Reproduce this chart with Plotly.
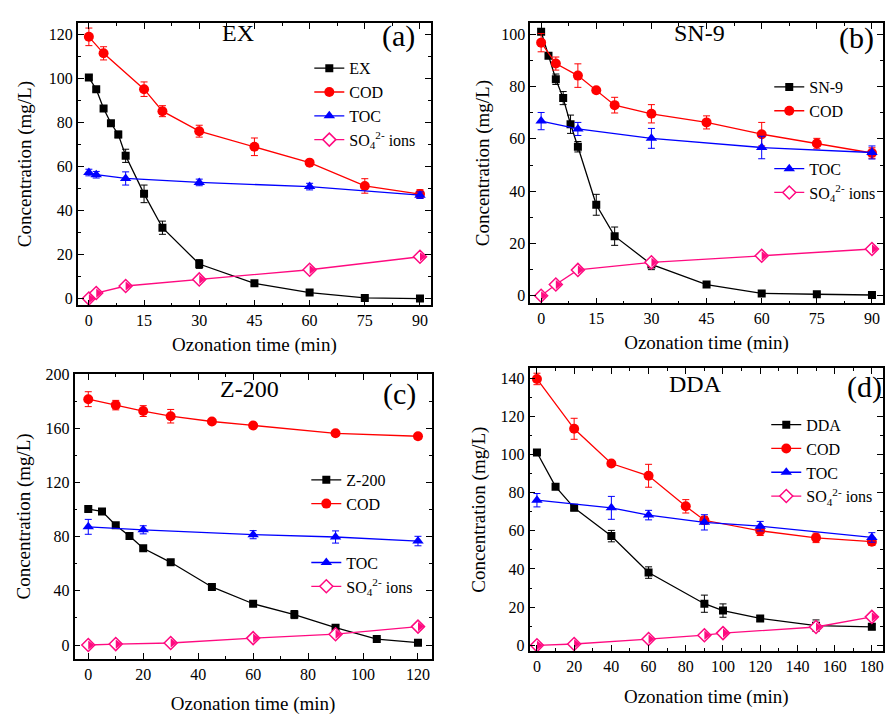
import plotly.graph_objects as go

# ---------------- data ----------------
# (a) EX
ex_t = [0, 2, 4, 6, 8, 10, 15, 20, 30, 45, 60, 75, 90]
ex_conc = [100.5, 95.2, 86.4, 79.7, 74.6, 64.9, 47.6, 32.2, 15.7, 6.9, 2.7, 0.3, 0.0]
ex_err = [1, 1, 1, 1, 1.5, 3, 4, 3, 2, 1, 1, 0.5, 0.5]
ex_cod_t = [0, 4, 15, 20, 30, 45, 60, 75, 90]
ex_cod = [119.0, 111.5, 95.2, 85.2, 76.1, 69.0, 61.8, 51.2, 47.5]
ex_cod_err = [4, 3, 3.3, 2.5, 2.7, 4, 1, 3.3, 2]
ex_toc_t = [0, 2, 10, 30, 60, 90]
ex_toc = [57.3, 56.3, 54.6, 52.8, 50.9, 47.0]
ex_toc_err = [1.5, 1.5, 3, 1.5, 1.5, 1.5]
ex_so4_t = [0, 2, 10, 30, 60, 90]
ex_so4 = [0.0, 2.5, 5.7, 8.7, 13.1, 19.0]

# (b) SN-9
sn_t = [0, 2, 4, 6, 8, 10, 15, 20, 30, 45, 60, 75, 90]
sn_conc = [101.0, 91.8, 82.8, 75.6, 65.6, 57.0, 34.8, 22.8, 12.0, 4.3, 0.9, 0.6, 0.3]
sn_err = [1, 1, 2, 2.5, 3.5, 2, 4, 3.5, 2, 0.5, 0.5, 0.5, 0.5]
sn_cod_t = [0, 4, 10, 15, 20, 30, 45, 60, 75, 90]
sn_cod = [96.8, 88.8, 84.2, 78.6, 72.9, 69.6, 66.3, 61.8, 58.2, 54.6]
sn_cod_err = [3.5, 2.5, 4.5, 1, 3, 3.5, 2.5, 4.5, 2, 2]
sn_toc_t = [0, 10, 30, 60, 90]
sn_toc = [66.8, 63.8, 60.2, 56.7, 54.8]
sn_toc_err = [3.3, 2.5, 3.8, 4.3, 2.5]
sn_so4_t = [0, 4, 10, 30, 60, 90]
sn_so4 = [0.0, 4.3, 9.9, 12.8, 15.3, 17.9]

# (c) Z-200
z_t = [0, 5, 10, 15, 20, 30, 45, 60, 75, 90, 105, 120]
z_conc = [100.4, 98.7, 88.5, 80.5, 71.5, 61.1, 42.9, 30.5, 22.5, 12.8, 4.4, 1.7]
z_err = [1.5, 1, 1.5, 1.5, 1.5, 1.5, 1, 1.5, 3, 2, 1, 1]
z_cod_t = [0, 10, 20, 30, 45, 60, 90, 120]
z_cod = [181.6, 177.2, 172.8, 169.0, 165.1, 162.2, 156.4, 154.2]
z_cod_err = [5.5, 3.5, 4, 5, 1.5, 1.5, 1.5, 2]
z_toc_t = [0, 20, 60, 90, 120]
z_toc = [87.3, 85.1, 81.5, 79.8, 76.8]
z_toc_err = [5.5, 3, 3, 4.5, 3.5]
z_so4_t = [0, 10, 30, 60, 90, 120]
z_so4 = [0.0, 0.7, 1.5, 5.1, 8.0, 13.6]

# (d) DDA
d_t = [0, 10, 20, 40, 60, 90, 100, 120, 150, 180]
d_conc = [101.0, 83.1, 72.0, 57.2, 38.1, 21.8, 18.2, 14.1, 10.3, 9.7]
d_err = [1.5, 1.5, 1.5, 3, 3, 4.5, 3.5, 1.5, 3, 1.5]
d_cod_t = [0, 20, 40, 60, 80, 90, 120, 150, 180]
d_cod = [139.5, 113.4, 95.2, 88.8, 72.8, 65.5, 60.0, 56.3, 54.3]
d_cod_err = [3, 5.5, 1.5, 6, 3.5, 2, 2.5, 2.5, 2]
d_toc_t = [0, 40, 60, 90, 120, 180]
d_toc = [76.0, 72.0, 68.2, 64.4, 62.4, 56.5]
d_toc_err = [3.5, 6, 2.5, 4, 2.5, 2.5]
d_so4_t = [0, 20, 60, 90, 100, 150, 180]
d_so4 = [0.0, 0.7, 3.3, 5.3, 6.4, 9.6, 14.9]

# ---------------- style ----------------
FONT = "Liberation Serif"
BLACK, RED, BLUE, PINK = "#000000", "#FF0000", "#0000FF", "#FF0A80"
SO4_NAME = "SO<sub>4</sub><sup>2-</sup> ions"
D_SIZE = 10

fig = go.Figure()


def add_panel(idx, name, legs, t, c, e, ct, cv, ce, tt, tv, te, st, sv):
    xa = "x" if idx == 1 else f"x{idx}"
    ya = "y" if idx == 1 else f"y{idx}"
    lg1, lg2 = legs
    fig.add_trace(go.Scatter(x=t, y=c, name=name, legend=lg1,
                             marker=dict(symbol="square", size=8, color=BLACK),
                             error_y=dict(type="data", array=e, color=BLACK, thickness=1, width=3.5),
                             line=dict(color=BLACK, width=1.3), xaxis=xa, yaxis=ya,
                             mode="lines+markers"))
    fig.add_trace(go.Scatter(x=ct, y=cv, name="COD", legend=lg1,
                             marker=dict(symbol="circle", size=10, color=RED),
                             error_y=dict(type="data", array=ce, color=RED, thickness=1, width=3.5),
                             line=dict(color=RED, width=1.3), xaxis=xa, yaxis=ya, mode="lines+markers"))
    fig.add_trace(go.Scatter(x=tt, y=tv, name="TOC", legend=lg2,
                             marker=dict(symbol="triangle-up", size=10, color=BLUE),
                             error_y=dict(type="data", array=te, color=BLUE, thickness=1, width=3.5),
                             line=dict(color=BLUE, width=1.3), xaxis=xa, yaxis=ya, mode="lines+markers"))
    fig.add_trace(go.Scatter(x=st, y=sv, name=SO4_NAME, legend=lg2,
                             marker=dict(symbol="diamond", size=D_SIZE, color="white",
                                         line=dict(color=PINK, width=1.5)),
                             line=dict(color=PINK, width=1.3), xaxis=xa, yaxis=ya, mode="lines+markers"))
    # right half of the diamond filled (half-filled diamond as in the reference)
    tsize = 0.8 * D_SIZE
    fig.add_trace(go.Scatter(x=st, y=sv, showlegend=False, hoverinfo="skip",
                             marker=dict(symbol="triangle-down", size=tsize, color=PINK,
                                         angle=-90, standoff=tsize / 4, line=dict(width=0)),
                             xaxis=xa, yaxis=ya, mode="markers"))


add_panel(1, "EX", ("legend", "legend"), ex_t, ex_conc, ex_err, ex_cod_t, ex_cod, ex_cod_err,
          ex_toc_t, ex_toc, ex_toc_err, ex_so4_t, ex_so4)
add_panel(2, "SN-9", ("legend2", "legend3"), sn_t, sn_conc, sn_err, sn_cod_t, sn_cod, sn_cod_err,
          sn_toc_t, sn_toc, sn_toc_err, sn_so4_t, sn_so4)
add_panel(3, "Z-200", ("legend4", "legend5"), z_t, z_conc, z_err, z_cod_t, z_cod, z_cod_err,
          z_toc_t, z_toc, z_toc_err, z_so4_t, z_so4)
add_panel(4, "DDA", ("legend6", "legend6"), d_t, d_conc, d_err, d_cod_t, d_cod, d_cod_err,
          d_toc_t, d_toc, d_toc_err, d_so4_t, d_so4)

W, H = 885, 715


def px_x(a, b):
    return [a / W, min(b / W, 1.0)]


def px_y(top, bottom):
    return [1 - bottom / H, 1 - top / H]


def axis(domain, rng, dtick, minor_dtick, title, standoff, anchor):
    return dict(domain=domain, range=rng, dtick=dtick, tick0=0, anchor=anchor,
                showline=True, linecolor="black", linewidth=1.5, mirror="allticks",
                ticks="inside", ticklen=6, tickwidth=1.2, tickcolor="black",
                showgrid=False, zeroline=False,
                tickfont=dict(family=FONT, size=16, color="black"),
                minor=dict(ticks="inside", ticklen=3, tickwidth=1, tickcolor="black",
                           dtick=minor_dtick, tick0=0, showgrid=False),
                title=dict(text=title, font=dict(family=FONT, size=19, color="black"),
                           standoff=standoff))


XT = "Ozonation time (min)"
YT = "Concentration (mg/L)"

layout = dict(
    width=W, height=H, margin=dict(l=0, r=0, t=0, b=0),
    paper_bgcolor="white", plot_bgcolor="white",
    font=dict(family=FONT, color="black"),
    xaxis=axis(px_x(78, 432), [-3, 93], 15, 7.5, XT, 9, "y"),
    yaxis=axis(px_y(15, 302), [-3.1, 125.4], 20, 10, YT, 12, "x"),
    xaxis2=axis(px_x(531.3, 885), [-3, 93], 15, 7.5, XT, 9, "y2"),
    yaxis2=axis(px_y(15, 300), [-2.9, 104.4], 20, 10, YT, 6, "x2"),
    xaxis3=axis(px_x(74.7, 432.7), [-5, 125], 20, 10, XT, 15, "y3"),
    yaxis3=axis(px_y(371.7, 661), [-10.2, 200.2], 40, 20, YT, 10, "x3"),
    xaxis4=axis(px_x(530.7, 885), [-4, 186], 20, 10, XT, 16, "y4"),
    yaxis4=axis(px_y(365.7, 653.3), [-3.1, 145.2], 20, 10, YT, 10, "x4"),
)


def leg(x_px, top_px):
    return dict(x=x_px / W, y=1 - top_px / H, xanchor="left", yanchor="top",
                bgcolor="rgba(0,0,0,0)", font=dict(family=FONT, size=16, color="black"),
                tracegroupgap=0, itemclick=False)


layout["legend"] = leg(310, 44)
layout["legend2"] = leg(771, 63)
layout["legend3"] = leg(771, 146)
layout["legend4"] = leg(307, 462)
layout["legend5"] = leg(307, 546)
layout["legend6"] = leg(768, 406)

ann = []
panels = [
    ("x", "y", "EX", 0.453, 0.965, "(a)", 0.907, 0.952),
    ("x2", "y2", "SN-9", 0.48, 0.962, "(b)", 0.926, 0.945),
    ("x3", "y3", "Z-200", 0.49, 0.946, "(c)", 0.909, 0.928),
    ("x4", "y4", "DDA", 0.469, 0.943, "(d)", 0.949, 0.932),
]
for xr, yr, name, nx, ny, lab, lx, ly in panels:
    ann.append(dict(text=name, xref=f"{xr} domain", yref=f"{yr} domain", x=nx, y=ny,
                    xanchor="center", yanchor="middle",
                    showarrow=False, font=dict(family=FONT, size=24, color="black")))
    ann.append(dict(text=lab, xref=f"{xr} domain", yref=f"{yr} domain", x=lx, y=ly,
                    xanchor="center", yanchor="middle",
                    showarrow=False, font=dict(family=FONT, size=30, color="black")))
layout["annotations"] = ann

fig.update_layout(**layout)
fig.write_html("out.html")
